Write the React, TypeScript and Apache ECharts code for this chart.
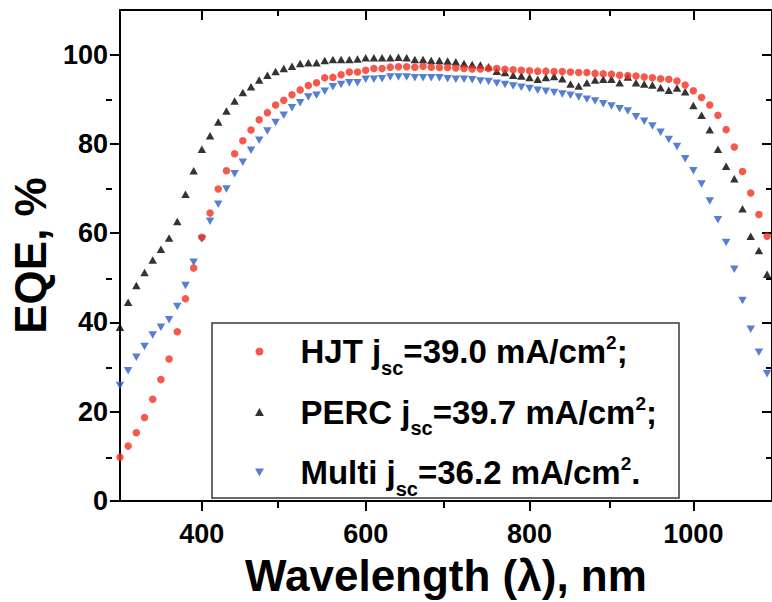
import React, { useEffect, useRef } from 'react';
import * as echarts from 'echarts';

const wavelengths = [
  300, 310, 320, 330, 340, 350, 360, 370, 380, 390,
  400, 410, 420, 430, 440, 450, 460, 470, 480, 490,
  500, 510, 520, 530, 540, 550, 560, 570, 580, 590,
  600, 610, 620, 630, 640, 650, 660, 670, 680, 690,
  700, 710, 720, 730, 740, 750, 760, 770, 780, 790,
  800, 810, 820, 830, 840, 850, 860, 870, 880, 890,
  900, 910, 920, 930, 940, 950, 960, 970, 980, 990,
  1000, 1010, 1020, 1030, 1040, 1050, 1060, 1070, 1080, 1090,
];

const hjt = [
  9.8, 12.3, 15.3, 18.7, 22.8, 27.2, 31.8, 37.9, 45.3, 52.2,
  59.1, 64.5, 69.9, 74.0, 77.8, 80.7, 83.1, 85.4, 87.0, 88.7,
  89.8, 91.0, 92.1, 93.1, 93.7, 94.8, 94.9, 95.5, 96.1, 96.1,
  96.5, 96.9, 96.9, 97.2, 97.3, 97.3, 97.2, 97.4, 97.2, 97.1,
  97.1, 97.0, 96.9, 96.8, 96.8, 96.9, 96.9, 96.7, 96.6, 96.5,
  96.4, 96.3, 96.3, 96.2, 96.2, 96.1, 96.0, 96.0, 95.8, 95.7,
  95.6, 95.4, 95.3, 95.2, 95.0, 94.8, 94.6, 94.5, 94.1, 93.2,
  91.9, 90.4, 88.7, 86.4, 83.2, 79.3, 73.8, 69.0, 64.2, 59.3,
];

const perc = [
  38.9, 44.5, 48.3, 51.2, 54.0, 56.4, 58.9, 62.6, 68.7, 74.0,
  78.8, 81.8, 84.9, 87.4, 89.6, 91.5, 92.8, 94.3, 95.4, 96.2,
  96.9, 97.4, 98.0, 98.2, 98.2, 98.7, 98.9, 98.9, 98.9, 99.0,
  99.3, 99.3, 99.3, 99.3, 99.4, 99.3, 98.9, 98.9, 98.7, 98.7,
  98.6, 98.4, 98.0, 97.8, 97.7, 97.3, 96.3, 96.0, 95.4, 95.2,
  94.9, 94.5, 94.9, 95.1, 94.6, 93.4, 93.0, 93.7, 94.3, 94.5,
  94.5, 93.7, 95.0, 93.7, 93.4, 93.2, 92.6, 92.0, 92.5, 91.7,
  88.6, 86.4, 83.2, 78.8, 75.0, 72.2, 65.5, 59.3, 56.1, 50.8,
];

const multi = [
  25.9, 29.2, 32.2, 34.6, 37.2, 38.9, 40.6, 43.6, 48.3, 53.5,
  58.7, 62.7, 66.5, 69.9, 73.3, 75.9, 78.6, 80.8, 82.9, 84.8,
  86.4, 88.1, 89.2, 90.5, 90.9, 91.8, 92.8, 93.3, 93.7, 93.7,
  94.5, 94.5, 94.6, 95.0, 95.0, 95.0, 94.8, 94.8, 94.8, 94.8,
  94.6, 94.5, 94.5, 94.4, 94.1, 94.0, 93.6, 93.3, 93.0, 92.7,
  92.4, 92.0, 91.8, 91.5, 91.2, 90.9, 90.5, 90.0, 89.6, 89.0,
  88.5, 87.9, 87.4, 86.1, 85.1, 84.0, 82.6, 81.0, 79.4, 76.7,
  74.0, 71.0, 67.2, 63.0, 57.9, 51.9, 44.9, 38.5, 33.3, 28.5,
];

const seriesNames = ['HJT', 'PERC', 'Multi'];
const jscValues = ['39.0', '39.7', '36.2'];
const jscEnds = [';', ';', '.'];

const xMajorTicks = [400, 600, 800, 1000];
const xMinorTicks = [500, 700, 900];
const yMajorTicks = [0, 20, 40, 60, 80, 100];
const yMinorTicks = [10, 30, 50, 70, 90];

const FONT = '"Liberation Sans", Arial, Helvetica, sans-serif';
const BLACK = '#000000';
const RED = '#f2301e';
const BLUE = '#2a5fc4';

const UP_TRIANGLE = 'path://M5,0L10,9L0,9Z';
const DOWN_TRIANGLE = 'path://M0,0L10,0L5,9Z';

const X_MIN = 300;
const X_MAX = 1096;
const Y_MIN = 0;
const Y_MAX = 110;

function App() {
  const ref = useRef<HTMLDivElement>(null);

  useEffect(() => {
    if (!ref.current) return;
    const chart = echarts.init(ref.current, null, { renderer: 'svg' });

    const gridRect = { left: 112, right: -7, top: 10, bottom: 100 };
    const tickLine = { color: BLACK, width: 2 };
    const axisLineStyle = { show: true, onZero: false, lineStyle: { color: BLACK, width: 2 } };
    const labelStyle = {
      fontFamily: FONT,
      fontWeight: 'bold' as const,
      fontSize: 27,
      color: BLACK,
      formatter: (v: number) => String(v),
    };

    const xBase = {
      type: 'value' as const,
      min: X_MIN,
      max: X_MAX,
      splitLine: { show: false },
    };
    const yBase = {
      type: 'value' as const,
      min: Y_MIN,
      max: Y_MAX,
      splitLine: { show: false },
    };

    const pts = (vals: number[]) => wavelengths.map((w, i) => [w, vals[i]]);

    const option: any = {
      animation: false,
      backgroundColor: '#ffffff',
      grid: [
        { ...gridRect },
        { ...gridRect },
      ],
      xAxis: [
        {
          ...xBase,
          gridIndex: 0,
          position: 'bottom',
          axisLine: axisLineStyle,
          axisTick: { show: true, inside: false, length: 10, customValues: xMajorTicks, lineStyle: tickLine },
          axisLabel: { ...labelStyle, margin: 19, customValues: xMajorTicks },
          name: 'Wavelength (λ), nm',
          nameLocation: 'middle',
          nameGap: 52,
          nameTextStyle: { fontFamily: FONT, fontWeight: 'bold', fontSize: 44, color: BLACK },
        },
        {
          ...xBase,
          gridIndex: 0,
          position: 'top',
          axisLine: axisLineStyle,
          axisTick: { show: true, inside: true, length: 10, customValues: xMajorTicks, lineStyle: tickLine },
          axisLabel: { show: false },
        },
        {
          ...xBase,
          gridIndex: 1,
          position: 'bottom',
          axisLine: { show: false, onZero: false },
          axisTick: { show: true, inside: false, length: 6, customValues: xMinorTicks, lineStyle: tickLine },
          axisLabel: { show: false },
        },
        {
          ...xBase,
          gridIndex: 1,
          position: 'top',
          axisLine: { show: false, onZero: false },
          axisTick: { show: true, inside: true, length: 6, customValues: xMinorTicks, lineStyle: tickLine },
          axisLabel: { show: false },
        },
      ],
      yAxis: [
        {
          ...yBase,
          gridIndex: 0,
          position: 'left',
          axisLine: axisLineStyle,
          axisTick: { show: true, inside: false, length: 10, customValues: yMajorTicks, lineStyle: tickLine },
          axisLabel: { ...labelStyle, margin: 12, customValues: yMajorTicks },
          name: 'EQE, %',
          nameLocation: 'middle',
          nameGap: 62,
          nameTextStyle: { fontFamily: FONT, fontWeight: 'bold', fontSize: 44, color: BLACK },
        },
        {
          ...yBase,
          gridIndex: 0,
          position: 'right',
          axisLine: axisLineStyle,
          axisTick: { show: true, inside: true, length: 10, customValues: yMajorTicks, lineStyle: tickLine },
          axisLabel: { show: false },
        },
        {
          ...yBase,
          gridIndex: 1,
          position: 'left',
          axisLine: { show: false, onZero: false },
          axisTick: { show: true, inside: false, length: 6, customValues: yMinorTicks, lineStyle: tickLine },
          axisLabel: { show: false },
        },
        {
          ...yBase,
          gridIndex: 1,
          position: 'right',
          axisLine: { show: false, onZero: false },
          axisTick: { show: true, inside: true, length: 6, customValues: yMinorTicks, lineStyle: tickLine },
          axisLabel: { show: false },
        },
      ],
      legend: {
        orient: 'vertical',
        left: 255,
        top: 333,
        padding: 0,
        itemWidth: 72,
        itemHeight: 8,
        itemGap: 16,
        selectedMode: false,
        data: seriesNames,
        formatter: (name: string) => {
          const i = seriesNames.indexOf(name);
          return `{m|${name} j}{s|sc}{m|=${jscValues[i]} mA/cm}{p|2}{m|${jscEnds[i]}}`;
        },
        textStyle: {
          fontFamily: FONT,
          fontWeight: 'bold',
          fontSize: 33,
          color: BLACK,
          rich: {
            m: { fontFamily: FONT, fontWeight: 'bold', fontSize: 33, color: BLACK },
            s: { fontFamily: FONT, fontWeight: 'bold', fontSize: 20, color: BLACK, padding: [32, 0, 0, 0] },
            p: { fontFamily: FONT, fontWeight: 'bold', fontSize: 19, color: BLACK, padding: [0, 0, 18, 0] },
          },
        },
      },
      graphic: [
        {
          type: 'rect',
          shape: { x: 212, y: 323, width: 467, height: 175 },
          style: { fill: 'none', stroke: '#3a3a3a', lineWidth: 1.5 },
          z: 10,
        },
      ],
      series: [
        {
          name: 'HJT',
          type: 'scatter',
          xAxisIndex: 0,
          yAxisIndex: 0,
          data: pts(hjt),
          symbol: 'circle',
          symbolSize: 7.5,
          itemStyle: { color: RED },
          z: 4,
        },
        {
          name: 'PERC',
          type: 'scatter',
          xAxisIndex: 0,
          yAxisIndex: 0,
          data: pts(perc),
          symbol: UP_TRIANGLE,
          symbolSize: [8.5, 7.5],
          itemStyle: { color: BLACK },
          z: 3,
        },
        {
          name: 'Multi',
          type: 'scatter',
          xAxisIndex: 0,
          yAxisIndex: 0,
          data: pts(multi),
          symbol: DOWN_TRIANGLE,
          symbolSize: [8.5, 7.5],
          itemStyle: { color: BLUE },
          z: 2,
        },
      ],
    };

    chart.setOption(option);
    return () => {
      chart.dispose();
    };
  }, []);

  return (
    <div
      ref={ref}
      style={{ position: 'fixed', left: 0, top: 0, width: 772, height: 602, background: '#fff' }}
    />
  );
}

export default App;
